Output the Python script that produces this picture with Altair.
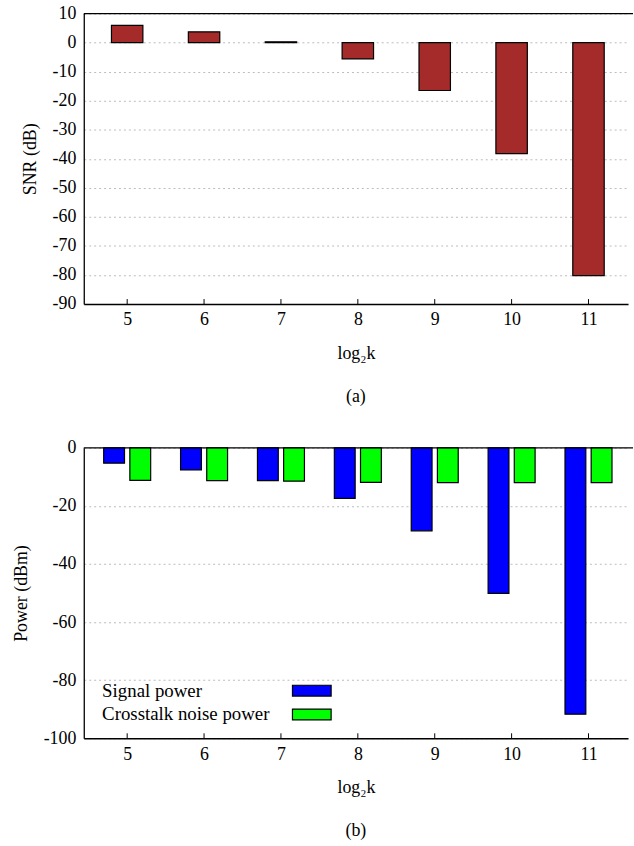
import altair as alt
import pandas as pd

# ---- data ----
log2k = [5, 6, 7, 8, 9, 10, 11]
snr_db = [5.9, 3.7, 0.3, -5.6, -16.5, -38.2, -80.2]
signal_power = [-5.3, -7.6, -11.3, -17.4, -28.6, -50.1, -91.7]
crosstalk_power = [-11.2, -11.3, -11.5, -11.9, -12.0, -12.0, -12.0]
series_names = ["Signal power", "Crosstalk noise power"]
series_colors = ["#0000ff", "#00ff00"]
snr_ticks = [10, 0, -10, -20, -30, -40, -50, -60, -70, -80, -90]
pow_ticks = [0, -20, -40, -60, -80, -100]

FONT = "Liberation Serif"
FS = 18
W = 549
H = 293
HYPHEN_LABEL = "datum.value < 0 ? '-' + abs(datum.value) : '' + datum.value"

top_df = pd.DataFrame({"k": log2k, "snr": snr_db})
bot_df = pd.DataFrame({"k": log2k, "sig": signal_power, "xt": crosstalk_power})
leg_df = pd.DataFrame({"series": series_names, "color": series_colors})
one = pd.DataFrame({"a": [0]})

xscale = alt.Scale(domain=[4.5, 11.45], nice=False, zero=False)


def xaxis():
    return alt.Axis(values=log2k, format="d", tickSize=0, labelPadding=7,
                    grid=False, title="log₂k", titlePadding=16)


def inward_ticks(df):
    return alt.Chart(df).mark_rule(color="black", strokeWidth=1).encode(
        x=alt.X("k:Q", scale=xscale, axis=xaxis()),
        y=alt.value(H), y2=alt.value(H - 5))


def top_border():
    return alt.Chart(one).mark_rule(color="black", strokeWidth=1.3).encode(
        x=alt.value(0), x2=alt.value(W + 5), y=alt.value(0))


# ---- panel (a) ----
bars_a = alt.Chart(top_df).mark_bar(size=31.7, color="#a52a2a", stroke="black",
                                     strokeWidth=1.2).encode(
    x=alt.X("k:Q", scale=xscale, axis=xaxis()),
    y=alt.Y("snr:Q", scale=alt.Scale(domain=[-90, 10], nice=False),
            axis=alt.Axis(values=snr_ticks, title="SNR (dB)", tickSize=0,
                          labelExpr=HYPHEN_LABEL,
                          labelPadding=8, titlePadding=13, grid=True)),
)
panel_a = alt.layer(bars_a, inward_ticks(top_df), top_border()).properties(
    width=W, height=H,
    title=alt.TitleParams("(a)", orient="bottom", frame="group", anchor="middle",
                          font=FONT, fontSize=FS, fontWeight="normal", offset=26),
)

# ---- panel (b) ----
yb = alt.Scale(domain=[-100, 0], nice=False)
yaxis_b = alt.Axis(values=pow_ticks, title="Power (dBm)", tickSize=0,
                   labelExpr=HYPHEN_LABEL,
                   labelPadding=8, titlePadding=13, grid=True)
bars_sig = alt.Chart(bot_df).mark_bar(size=21, xOffset=-13.2, color=series_colors[0],
                                      stroke="black", strokeWidth=1.2).encode(
    x=alt.X("k:Q", scale=xscale, axis=xaxis()),
    y=alt.Y("sig:Q", scale=yb, axis=yaxis_b),
)
bars_xt = alt.Chart(bot_df).mark_bar(size=21, xOffset=13.2, color=series_colors[1],
                                     stroke="black", strokeWidth=1.2).encode(
    x=alt.X("k:Q", scale=xscale, axis=xaxis()),
    y=alt.Y("xt:Q", scale=yb, axis=yaxis_b),
)
main_b = alt.layer(bars_sig, bars_xt, inward_ticks(bot_df), top_border())

leg_y = alt.Y("series:N", scale=alt.Scale(domain=series_names, range=[245, 269], padding=0),
              axis=None)
leg_text = alt.Chart(leg_df).mark_text(align="left", baseline="middle", font=FONT,
                                       fontSize=19, color="black").encode(
    x=alt.value(18.5), y=leg_y, text="series:N")
leg_sw = alt.Chart(leg_df).mark_point(
    shape="M-1,-0.28L1,-0.28L1,0.28L-1,0.28Z", size=1521, filled=True, opacity=1,
    stroke="black", strokeWidth=1.2).encode(
    x=alt.value(230), y=leg_y,
    fill=alt.Fill("color:N", scale=None))
legend_b = alt.layer(leg_text, leg_sw)

panel_b = alt.layer(main_b, legend_b).resolve_scale(y="independent").properties(
    width=W, height=H,
    title=alt.TitleParams("(b)", orient="bottom", frame="group", anchor="middle",
                          font=FONT, fontSize=FS, fontWeight="normal", offset=26),
)

chart = alt.vconcat(panel_a, panel_b, spacing=33).properties(
    padding={"left": 12.5, "top": 1, "right": 0, "bottom": 0},
    background="white",
).configure_view(stroke=None).configure_axis(
    labelFont=FONT, labelFontSize=FS, labelColor="black",
    titleFont=FONT, titleFontSize=FS, titleFontWeight="normal", titleColor="black",
    domainColor="black", domainWidth=1.3,
    gridColor="#bbbbbb", gridDash=[2, 3], gridWidth=1,
)

chart.save("out.html", embed_options={"renderer": "svg", "actions": False})
